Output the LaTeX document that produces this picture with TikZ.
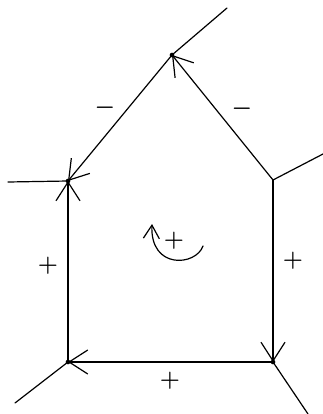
\documentclass[tikz,border=0pt]{standalone}
\usetikzlibrary{arrows.meta}
\begin{document}
\begin{tikzpicture}[x=0.75pt,y=-0.75pt,
  edge/.style={line width=0.9pt,line cap=round},
  tipped/.style={edge,-{Straight Barb[length=14pt,width=18pt,line width=0.9pt]}},
  vdot/.style={circle,fill=black,inner sep=0pt,minimum size=3.5pt},
  sign/.style={inner sep=0pt,font=\fontsize{19}{21}\selectfont\boldmath}]
\useasboundingbox (0,0) rectangle (323,414);
% vertices
\node[vdot] (T) at (172,55) {};
\node[vdot] (L) at (68,181) {};
\coordinate (R) at (273,180);
\node[vdot] (BL) at (68,362) {};
\node[vdot] (BR) at (273,362) {};
% outer ends
\coordinate (Tout) at (227,8);
\coordinate (Lout) at (8,182);
\coordinate (Rout) at (323,154);
\coordinate (BLout) at (15,403);
\coordinate (BRout) at (308,414);
% outer lines
\draw[edge] (T.center) -- (Tout);
\draw[edge] (L.center) -- (Lout);
\draw[edge] (R) -- (Rout);
\draw[edge] (BL.center) -- (BLout);
\draw[edge] (BR.center) -- (BRout);
% oriented edges
\draw[tipped] (R) -- (T.center);
\draw[tipped] (T.center) -- (L.center);
\draw[tipped] (BL.center) -- (L.center);
\draw[tipped] (R) -- (BR.center);
\draw[tipped] (BR.center) -- (BL.center);
% signs
\node[sign] (m1) at (105,108) {$-$};
\node[sign] (m2) at (242,109) {$-$};
\node[sign] (p1) at (48,266) {$+$};
\node[sign] (p2) at (293,261) {$+$};
\node[sign] (p3) at (170,381) {$+$};
\node[sign] (p4) at (174,241) {$+$};
% rotation arrow
\coordinate (rs) at (203,246);
\coordinate (re) at (152,224);
\draw[edge,-{Straight Barb[length=10pt,width=12pt,line width=0.9pt]}] (rs) .. controls (196,266) and (150,270) .. (re);
\end{tikzpicture}
\end{document}
